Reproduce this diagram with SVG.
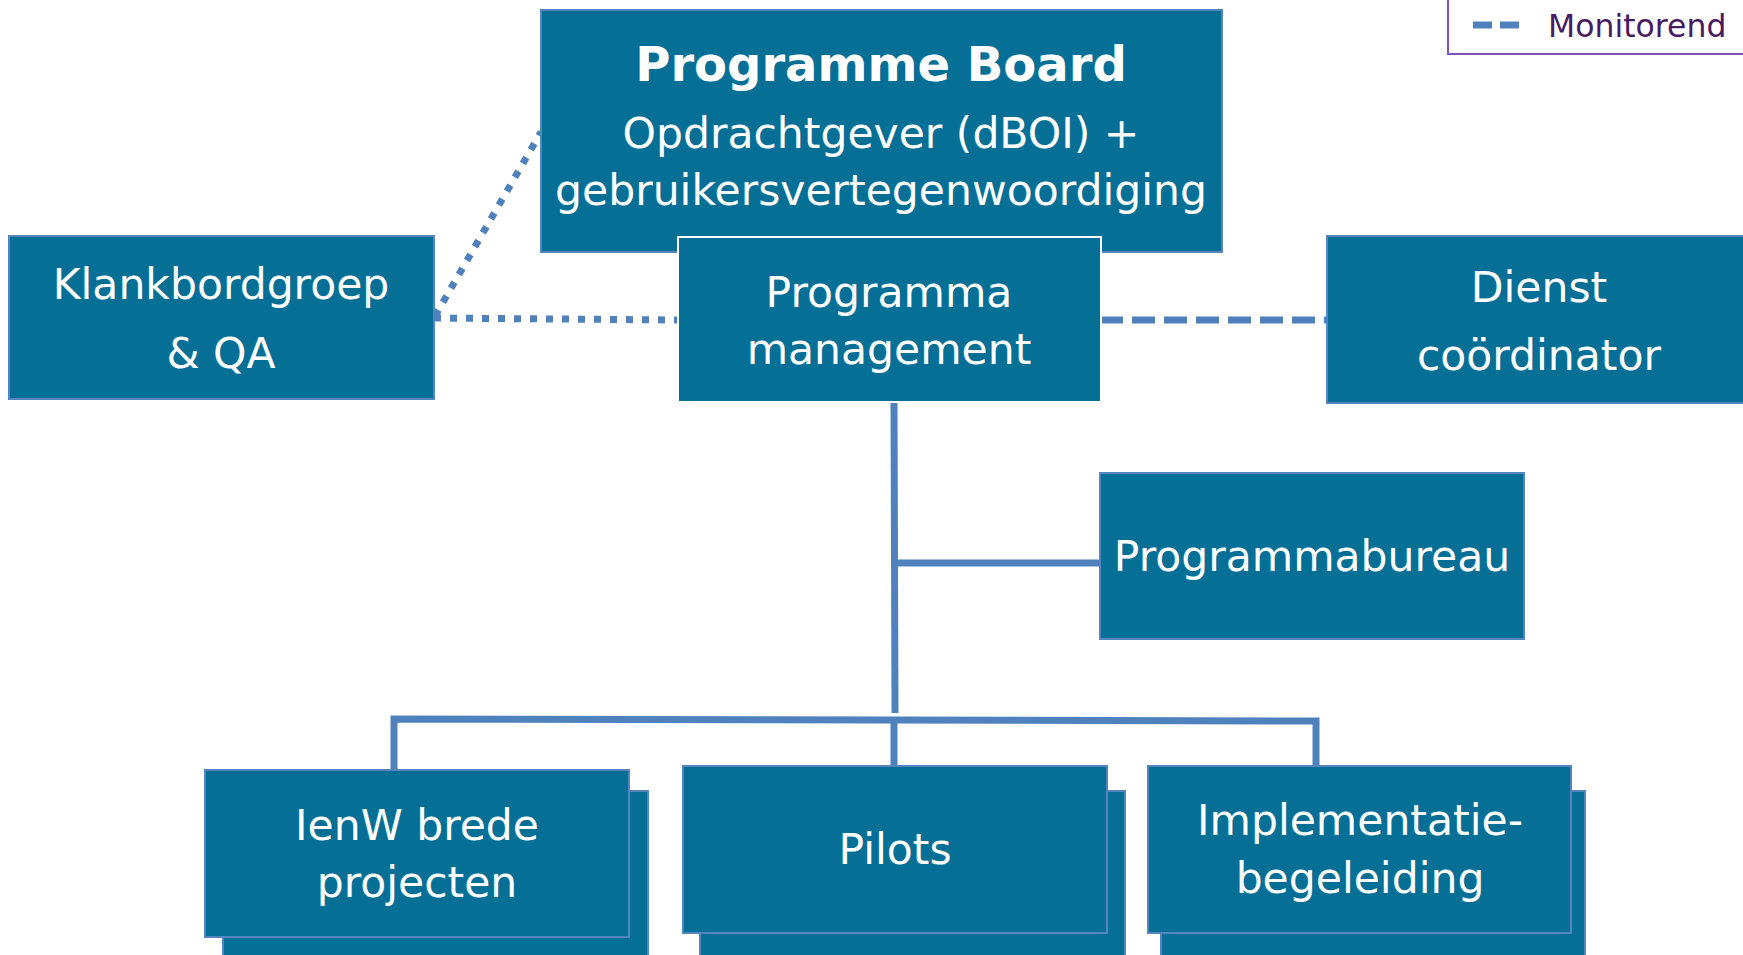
<svg xmlns="http://www.w3.org/2000/svg" width="1743" height="955" viewBox="0 0 1743 955">
<style>
.box{fill:#066f95;stroke:#5585c0;stroke-width:2}
.shadow{fill:#066f95;stroke:#5585c0;stroke-width:2}
.t{font-family:"DejaVu Sans","Verdana",sans-serif;font-size:42.5px;fill:#ffffff;text-anchor:middle}
.tb{font-family:"DejaVu Sans","Verdana",sans-serif;font-size:48px;font-weight:bold;fill:#ffffff;text-anchor:middle}
.line{stroke:#4f81bd;stroke-width:7;fill:none}
.dot{stroke:#4f81bd;stroke-width:7;fill:none;stroke-dasharray:7 9}
.dash{stroke:#4f81bd;stroke-width:7;fill:none;stroke-dasharray:23 9}
</style>
<rect width="1743" height="955" fill="#ffffff"/>
<g id="legend">
<rect x="1448" y="-5" width="320" height="59" fill="#ffffff" stroke="#8451b8" stroke-width="2"/>
<line x1="1473" y1="25" x2="1523" y2="25" stroke="#4f81bd" stroke-width="7" stroke-dasharray="19 8"/>
<text x="1548" y="37" font-family="DejaVu Sans, Verdana, sans-serif" font-size="31.5" fill="#4a1a62">Monitorend</text>
</g>
<g id="connectors">
<line class="dot" x1="435" y1="316" x2="541" y2="132"/>
<line class="dot" x1="434" y1="318" x2="677" y2="320"/>
<line class="dash" x1="1100" y1="320" x2="1326" y2="320"/>
<polyline class="line" points="894,401 895,713"/>
<line class="line" x1="895" y1="563" x2="1100" y2="563"/>
<polyline class="line" points="394,770 394,719 1316,721 1316,766"/>
<line class="line" x1="894" y1="719" x2="894" y2="766"/>
</g>
<g id="programme-board">
<rect class="box" x="541" y="10" width="681" height="242"/>
<text class="tb" x="881" y="81">Programme Board</text>
<text class="t" x="881" y="148">Opdrachtgever (dBOI) +</text>
<text class="t" x="881" y="205">gebruikersvertegenwoordiging</text>
</g>
<g id="programma-management">
<rect x="678" y="237" width="423" height="165" fill="#066f95" stroke="#ffffff" stroke-width="2"/>
<text class="t" x="889" y="307">Programma</text>
<text class="t" x="889" y="364">management</text>
</g>
<g id="klankbordgroep">
<rect class="box" x="9" y="236" width="425" height="163"/>
<text class="t" x="221" y="299">Klankbordgroep</text>
<text class="t" x="221" y="368">&amp; QA</text>
</g>
<g id="dienst-coordinator">
<rect class="box" x="1327" y="236" width="430" height="167"/>
<text class="t" x="1539" y="302">Dienst</text>
<text class="t" x="1539" y="370">coördinator</text>
</g>
<g id="programmabureau">
<rect class="box" x="1100" y="473" width="424" height="166"/>
<text class="t" x="1312" y="571">Programmabureau</text>
</g>
<g id="ienw-brede-projecten">
<rect class="shadow" x="223" y="791" width="425" height="180"/>
<rect class="box" x="205" y="770" width="424" height="167"/>
<text class="t" x="417" y="840">IenW brede</text>
<text class="t" x="417" y="897">projecten</text>
</g>
<g id="pilots">
<rect class="shadow" x="700" y="791" width="425" height="180"/>
<rect class="box" x="683" y="766" width="424" height="167"/>
<text class="t" x="895" y="864">Pilots</text>
</g>
<g id="implementatiebegeleiding">
<rect class="shadow" x="1161" y="791" width="424" height="180"/>
<rect class="box" x="1148" y="766" width="423" height="167"/>
<text class="t" x="1360" y="835">Implementatie-</text>
<text class="t" x="1360" y="893">begeleiding</text>
</g>
</svg>
